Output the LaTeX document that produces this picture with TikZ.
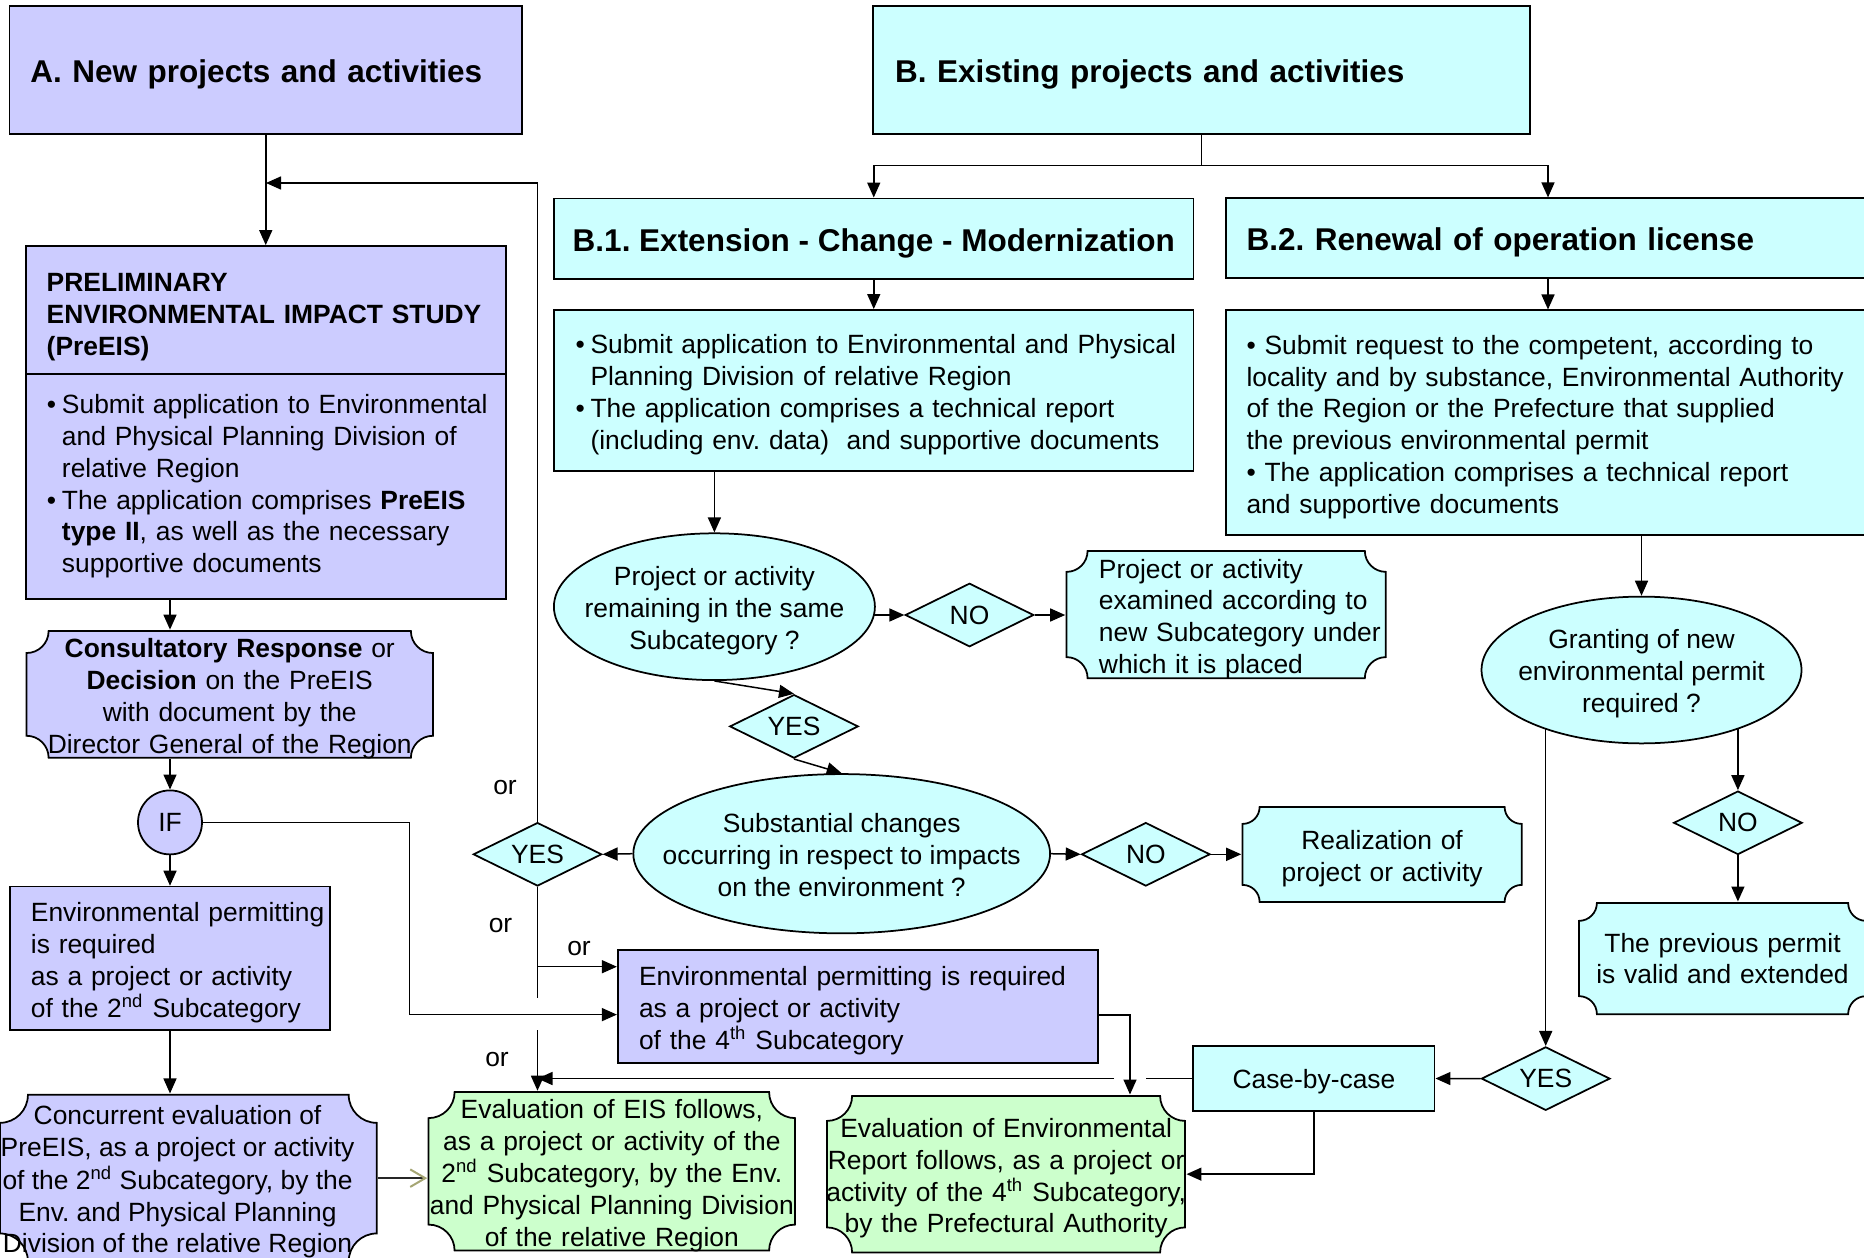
\documentclass[tikz,border=0pt]{standalone}
\usepackage{fontspec}
\setmainfont{Liberation Sans}
\usetikzlibrary{arrows.meta,shapes.geometric,calc,backgrounds}
\definecolor{cpur}{RGB}{204,204,255}
\definecolor{ccya}{RGB}{204,255,255}
\definecolor{cgre}{RGB}{204,255,204}
\definecolor{cgold}{RGB}{165,165,115}
\newcommand{\fsz}{\fontsize{10.56pt}{12.7pt}\selectfont\frenchspacing}
\newcommand{\fhd}{\fontsize{12.6pt}{15pt}\selectfont\bfseries\frenchspacing}
\newcommand{\bul}{\makebox[6pt][l]{\textbullet}}
\newcommand{\hng}{\hspace*{6pt}}
\newcommand{\tp}{\rule{0pt}{11.1pt}}
\newcommand{\tpe}{\rule{0pt}{12.3pt}}
\pgfdeclarelayer{lines}
\pgfsetlayers{background,lines,main}
\tikzset{
  every node/.style={font=\fsz},
  lw/.style={line width=0.7pt},
  boxp/.style={rectangle, draw, lw, fill=cpur, inner ysep=0pt},
  boxc/.style={rectangle, draw, lw, fill=ccya, inner ysep=0pt},
  head/.style={font=\fhd, text height=10pt, text depth=0pt},
  dia/.style={diamond, draw, lw, fill=ccya, shape aspect=2, minimum width=51.4pt, minimum height=25.4pt, inner sep=0pt},
  ell/.style={ellipse, draw, lw, fill=ccya, inner sep=0pt},
  arr/.style={line width=0.6pt, -{Triangle[length=6pt,width=5.2pt]}},
  con/.style={line width=0.6pt},
  oarr/.style={line width=0.6pt, draw=black!85, -{Straight Barb[length=6pt,width=7pt,color=cgold,line width=0.8pt]}},
  ortext/.style={inner sep=0pt},
  plaque/.style 2 args={rectangle, inner sep=0pt, align=center,
    path picture={\path[fill=#2, draw=black, line width=0.7pt]
      let \p1=($(path picture bounding box.south west)+(0.35pt,0.35pt)$),
          \p2=($(path picture bounding box.north east)-(0.35pt,0.35pt)$) in
      (\x1,{\y1+#1}) -- (\x1,{\y2-#1}) arc[start angle=-90,end angle=0,radius=#1]
      -- ({\x2-#1},\y2) arc[start angle=180,end angle=270,radius=#1]
      -- (\x2,{\y1+#1}) arc[start angle=90,end angle=180,radius=#1]
      -- ({\x1+#1},\y1) arc[start angle=0,end angle=90,radius=#1] -- cycle;}},
}
\begin{document}
\begin{tikzpicture}[x=0.4pt,y=-0.4pt]
\useasboundingbox (0,0) rectangle (1864,1258);
\begin{pgfonlayer}{background}
\fill[white] (0,0) rectangle (1864,1258);
\end{pgfonlayer}

% ---- column A
\node[boxp, head, minimum width=205pt, minimum height=51.2pt, text width=188.2pt, inner xsep=8.4pt, align=left] (A) at (265.75,70) {A. New projects and activities};
\node[boxp, minimum width=192pt, minimum height=51.2pt, text width=175.4pt, inner xsep=8.3pt, align=left, font=\fontsize{10.56pt}{12.8pt}\selectfont\bfseries] (PreH) at (266,310)
  {\rule{0pt}{13pt}PRELIMINARY\\\mbox{ENVIRONMENTAL IMPACT STUDY}\\(PreEIS)};
\node[boxp, minimum width=192pt, minimum height=90pt, text width=175.2pt, inner xsep=8.4pt, align=left] (PreB) at (266,486.5)
  {\mbox{\bul Submit application to Environmental}\\\hng and Physical Planning Division of\\\hng relative Region\\\mbox{\bul The application comprises \textbf{PreEIS}}\\\hng\textbf{type II}, as well as the necessary\\\hng supportive documents};
\node[plaque={8.8pt}{cpur}, minimum width=163.2pt, minimum height=51.4pt, text width=163.2pt] (Cons) at (229.75,694.4)
  {\tp\textbf{Consultatory Response} or\\\textbf{Decision} on the PreEIS\\with document by the\\Director General of the Region};
\node[circle, draw, lw, fill=cpur, minimum size=25.6pt, inner sep=0pt] (IF) at (170,822.4) {IF};
\node[boxp, minimum width=128.1pt, minimum height=57.4pt, text width=111.3pt, inner xsep=8.4pt, align=left] (Env2) at (170.05,958.35)
  {\tp\mbox{Environmental permitting}\\is required\\as a project or activity\\\mbox{of the 2\textsuperscript{nd} Subcategory}};
\node[plaque={11.2pt}{cpur}, minimum width=151.4pt, minimum height=67.1pt] (Conc) at (188.3,1178.15)
  {\makebox[0pt]{\hspace*{-8.6pt}\begin{tabular}{@{}c@{}}\tpe Concurrent evaluation of\\PreEIS, as a project or activity\\of the 2\textsuperscript{nd} Subcategory, by the\\Env. and Physical Planning\\Division of the relative Region\end{tabular}}};

% ---- column B
\node[boxc, head, minimum width=262.9pt, minimum height=51.2pt, text width=245.1pt, inner xsep=8.9pt, align=left] (B) at (1201.4,70) {B. Existing projects and activities};
\node[boxc, head, minimum width=255.8pt, minimum height=32.1pt, inner xsep=0pt, align=center] (B1) at (873.75,238.55) {B.1. Extension - Change - Modernization};
\node[boxc, head, minimum width=257.6pt, minimum height=32pt, text width=241.2pt, inner xsep=8.2pt, align=left] (B2) at (1548,238.3) {B.2. Renewal of operation license};
\node[boxc, minimum width=255.8pt, minimum height=64.4pt, text width=238.6pt, inner xsep=8.6pt, align=left] (B1sub) at (873.75,390.45)
  {\tp\mbox{\bul Submit application to Environmental and Physical}\\\hng Planning Division of relative Region\\\mbox{\bul The application comprises a technical report}\\\hng (including env. data)\ \ and supportive documents};
\node[boxc, minimum width=257.6pt, minimum height=89.7pt, text width=241.2pt, inner xsep=8.2pt, align=left] (B2sub) at (1548,422.5)
  {\tp\textbullet{} Submit request to the competent, according to\\\mbox{locality and by substance, Environmental Authority}\\of the Region or the Prefecture that supplied\\the previous environmental permit\\\textbullet{} The application comprises a technical report\\and supportive documents};

\node[ell, minimum width=128.4pt, minimum height=58.2pt] (Remain) at (714.4,606.7)
  {\makebox[0pt]{\begin{tabular}{@{}c@{}}\tpe Project or activity\\remaining in the same\\Subcategory ?\end{tabular}}};
\node[dia] (NO1) at (969.5,615) {NO};
\node[plaque={8.4pt}{ccya}, minimum width=128.4pt, minimum height=51.6pt, text width=101.8pt, inner xsep=13.3pt, align=left] (Exam) at (1226.2,614.5)
  {\tp Project or activity\\\mbox{examined according to}\\\mbox{new Subcategory under}\\which it is placed};
\node[dia] (YES1) at (794,726.4) {YES};
\node[ell, minimum width=166.7pt, minimum height=63.7pt] (Subst) at (841.7,853.7)
  {\makebox[0pt]{\begin{tabular}{@{}c@{}}\tpe Substantial changes\\occurring in respect to impacts\\on the environment ?\end{tabular}}};
\node[dia] (YESL) at (537.5,854.3) {YES};
\node[dia] (NO2) at (1145.8,854.3) {NO};
\node[plaque={6.8pt}{ccya}, minimum width=112.3pt, minimum height=38.7pt, text width=112.3pt] (Real) at (1382.1,854.4)
  {\tp Realization of\\project or activity};

\node[ell, minimum width=128pt, minimum height=57.6pt] (Grant) at (1641.5,670)
  {\makebox[0pt]{\begin{tabular}{@{}c@{}}\tpe Granting of new\\environmental permit\\required ?\end{tabular}}};
\node[dia] (NOr) at (1737.9,822.8) {NO};
\node[plaque={7.2pt}{ccya}, minimum width=115.6pt, minimum height=45.2pt, text width=115.6pt] (Permit) at (1722.5,958.5)
  {The previous permit\\is valid and extended};
\node[dia] (YESr) at (1545.7,1078.6) {YES};
\node[boxc, minimum width=96.5pt, minimum height=26pt, text height=10.6pt, text depth=2.3pt] (Case) at (1313.95,1078.5) {Case-by-case};

\node[boxp, minimum width=192pt, minimum height=45.1pt, text width=175pt, inner xsep=8.5pt, align=left] (Env4) at (857.75,1006.35)
  {\tp Environmental permitting is required\\as a project or activity\\of the 4\textsuperscript{th} Subcategory};
\node[plaque={10.4pt}{cgre}, minimum width=147.3pt, minimum height=63.7pt, text width=147.3pt] (EIS) at (611.85,1171.35)
  {\tp Evaluation of EIS follows,\\as a project or activity of the\\2\textsuperscript{nd} Subcategory, by the Env.\\\mbox{and Physical Planning Division}\\of the relative Region};
\node[plaque={10pt}{cgre}, minimum width=143.9pt, minimum height=63.3pt, text width=143.9pt] (EnvRep) at (1006.1,1174.15)
  {\tp Evaluation of Environmental\\\mbox{Report follows, as a project or}\\\mbox{activity of the 4\textsuperscript{th} Subcategory,}\\by the Prefectural Authority};

\node[ortext] (or1) at (505,787.5) {or};
\node[ortext] (or2) at (500.5,925.5) {or};
\node[ortext] (or3) at (579,948.5) {or};
\node[ortext] (or4) at (497,1060) {or};

% ---- coordinates
\coordinate (mA) at (266,183);
\coordinate (bs) at (1201.4,165.7);
\coordinate (ifc) at (409.3,1014.6);
\coordinate (br4) at (537.5,966.7);
\coordinate (yl1) at (537.5,998.3);
\coordinate (yl2) at (537.5,1030);
\coordinate (c4) at (1130,1015);
\coordinate (gR) at (1145.7,1078.5);
\coordinate (gL) at (1114,1078.5);

\begin{pgfonlayer}{lines}
\draw[arr] (A.south) -- (A.south |- PreH.north);
\draw[arr] (YESL.north) |- (mA);
\draw[arr] (PreB.south -| IF.north) -- (IF.north |- Cons.north);
\draw[arr] (Cons.south -| IF.north) -- (IF.north);
\draw[arr] (IF.south) -- (IF.south |- Env2.north);
\draw[arr] (IF.east) -| (ifc) -- (ifc -| Env4.west);
\draw[arr] (Env2.south -| IF.south) -- (IF.south |- Conc.north);
\draw[oarr] (Conc.east) -- (Conc.east -| EIS.west);

\draw[con] (B.south) -- (bs);
\draw[arr] (bs) -| (B1.north);
\draw[arr] (bs) -| (B2.north);
\draw[arr] (B1.south) -- (B1sub.north);
\draw[arr] (B2.south) -- (B2sub.north);
\draw[arr] (B1sub.south -| Remain.north) -- (Remain.north);
\draw[arr] (B2sub.south -| Grant.north) -- (Grant.north);
\draw[arr] (Remain.center |- NO1.west) -- (NO1.west);
\draw[arr] (NO1.east) -- (NO1.east -| Exam.west);
\draw[arr] (Remain.south) -- (YES1.north);
\draw[arr] (YES1.south) -- (Subst.north);
\draw[arr] (Subst.west) -- (YESL.east);
\draw[arr] (Subst.east) -- (NO2.west);
\draw[arr] (NO2.east) -- (NO2.east -| Real.west);
\draw[con] (YESL.south) -- (yl1);
\draw[arr] (br4) -- (br4 -| Env4.west);
\draw[arr] (yl2) -- (yl2 |- EIS.north);
\draw[arr] (c4 -| Env4.east) -- (c4) -- (c4 |- EnvRep.north);

\draw[arr] (Grant.center -| YESr.north) -- (YESr.north);
\draw[arr] (Grant.center -| NOr.north) -- (NOr.north);
\draw[arr] (NOr.south) -- (NOr.south |- Permit.north);
\draw[arr] (YESr.west) -- (Case.east);
\draw[arr] (Case.south) |- (EnvRep.east);
\draw[con] (Case.west) -- (gR);
\draw[arr] (gL) -- (gL -| yl2);
\end{pgfonlayer}
\end{tikzpicture}
\end{document}
